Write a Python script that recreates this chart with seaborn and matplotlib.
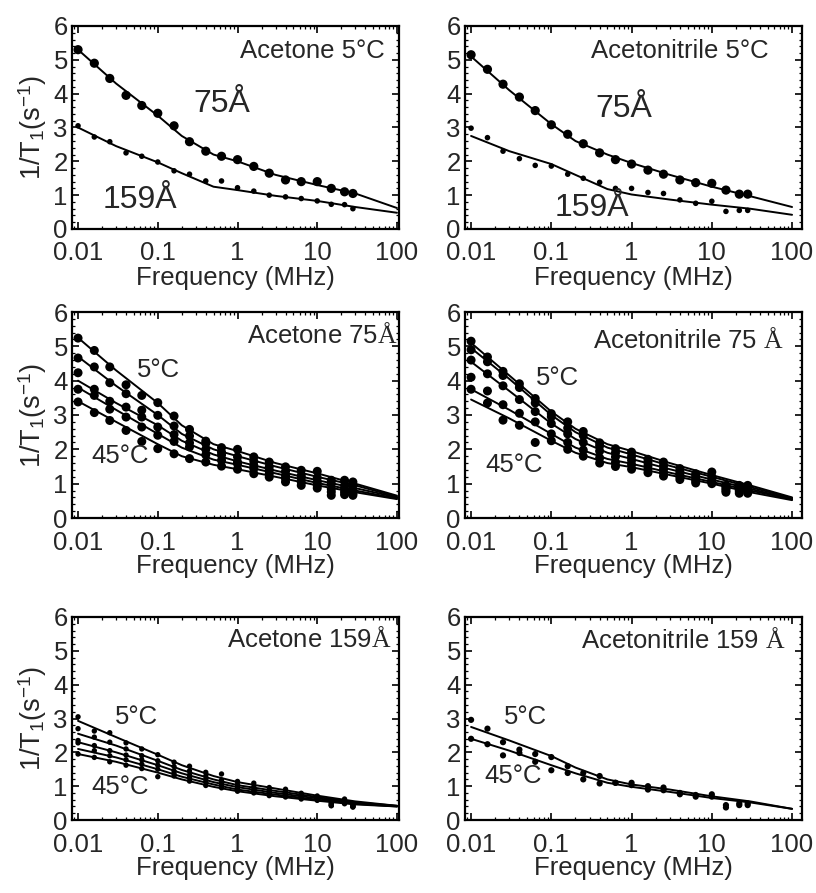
import matplotlib
matplotlib.use("Agg")
import matplotlib.pyplot as plt
import numpy as np
import pandas as pd
import seaborn as sns
from matplotlib.ticker import FixedLocator, FixedFormatter, MultipleLocator, LogLocator, NullFormatter

sns.set_theme(style="ticks")
plt.rcParams['font.family'] = ['Liberation Sans', 'DejaVu Sans']
plt.rcParams['mathtext.fontset'] = 'custom'
plt.rcParams['mathtext.rm'] = 'Liberation Serif'
plt.rcParams['mathtext.sf'] = 'Liberation Sans'
plt.rcParams['mathtext.it'] = 'Liberation Serif:italic'
plt.rcParams['mathtext.bf'] = 'Liberation Serif:bold'

# ---------------- data ----------------
freq = [0.01, 0.016, 0.025, 0.04, 0.063, 0.1, 0.16, 0.25, 0.4, 0.63, 1, 1.6, 2.5, 4, 6.3, 10, 15, 22, 28]
fit_freq = [0.01, 0.03, 0.1, 0.2, 0.5, 1, 3, 10, 30, 100]
temps = ["5°C", "15°C", "25°C", "35°C", "45°C"]

# Panel 1: Acetone 5°C
ac5_75 = [5.3, 4.9, 4.45, 3.95, 3.65, 3.42, 3.05, 2.58, 2.3, 2.15, 2.05, 1.85, 1.65, 1.45, 1.4, 1.4, 1.2, 1.1, 1.05]
ac5_159 = [3.05, 2.72, 2.58, 2.25, 2.15, 1.98, 1.72, 1.62, 1.42, 1.42, 1.22, 1.12, 1.0, 0.95, 0.9, 0.83, 0.73, 0.72, 0.6]
ac5_75_fit = [5.3, 4.3, 3.35, 2.75, 2.2, 2.0, 1.6, 1.3, 1.05, 0.62]
ac5_159_fit = [3.0, 2.45, 1.97, 1.65, 1.25, 1.15, 0.98, 0.83, 0.65, 0.48]

# Panel 2: Acetonitrile 5°C
an5_75 = [5.15, 4.72, 4.28, 3.9, 3.5, 3.08, 2.8, 2.52, 2.25, 2.05, 1.92, 1.74, 1.62, 1.45, 1.37, 1.35, 1.15, 1.03, 1.03]
an5_159 = [2.98, 2.7, 2.3, 2.08, 1.88, 1.86, 1.62, 1.5, 1.38, 1.2, 1.2, 1.08, 1.05, 0.86, 0.76, 0.82, 0.52, 0.55, 0.55]
an5_75_fit = [5.1, 4.1, 3.1, 2.6, 2.2, 1.95, 1.6, 1.25, 0.97, 0.65]
an5_159_fit = [2.75, 2.3, 1.92, 1.6, 1.18, 1.02, 0.87, 0.72, 0.6, 0.42]

# Panel 3: Acetone 75Å, 5..45°C
ac75 = [
    [5.24, 4.88, 4.40, 3.88, 3.57, 3.36, 2.97, 2.58, 2.24, 2.05, 2.0, 1.78, 1.63, 1.49, 1.39, 1.36, 1.10, 1.10, 1.05],
    [4.66, 4.40, 3.94, 3.62, 3.14, 2.99, 2.68, 2.39, 2.17, 1.92, 1.78, 1.65, 1.49, 1.36, 1.24, 1.17, 1.0, 0.95, 0.95],
    [4.23, 3.75, 3.40, 3.23, 2.94, 2.65, 2.43, 2.19, 2.0, 1.83, 1.63, 1.53, 1.39, 1.24, 1.17, 1.05, 0.85, 0.85, 0.81],
    [3.75, 3.57, 3.17, 2.94, 2.65, 2.41, 2.23, 2.07, 1.84, 1.68, 1.58, 1.44, 1.29, 1.15, 1.05, 0.95, 0.76, 0.76, 0.71],
    [3.38, 3.07, 2.84, 2.55, 2.23, 2.02, 1.87, 1.73, 1.63, 1.51, 1.42, 1.29, 1.19, 1.05, 0.95, 0.87, 0.66, 0.68, 0.66],
]
ac75_fit = [
    [5.25, 4.3, 3.35, 2.7, 2.15, 1.95, 1.6, 1.3, 1.0, 0.65],
    [4.7, 3.85, 3.0, 2.45, 2.0, 1.8, 1.5, 1.2, 0.95, 0.62],
    [4.0, 3.35, 2.7, 2.25, 1.85, 1.65, 1.38, 1.1, 0.87, 0.6],
    [3.8, 3.15, 2.45, 2.05, 1.7, 1.55, 1.3, 1.02, 0.8, 0.57],
    [3.4, 2.8, 2.15, 1.8, 1.55, 1.42, 1.2, 0.95, 0.75, 0.55],
]

# Panel 4: Acetonitrile 75Å
an75 = [
    [5.15, 4.69, 4.27, 3.91, 3.48, 3.04, 2.80, 2.52, 2.19, 2.02, 1.92, 1.71, 1.63, 1.44, 1.29, 1.34, 0.95, 0.95, 0.95],
    [4.9, 4.55, 4.15, 3.8, 3.35, 2.95, 2.62, 2.4, 2.1, 1.9, 1.8, 1.62, 1.52, 1.35, 1.22, 1.2, 0.9, 0.88, 0.88],
    [4.6, 4.2, 3.85, 3.45, 3.1, 2.75, 2.45, 2.2, 1.95, 1.78, 1.68, 1.52, 1.42, 1.28, 1.15, 1.12, 0.85, 0.82, 0.82],
    [4.1, 3.7, 3.3, 3.05, 2.8, 2.45, 2.2, 1.98, 1.75, 1.62, 1.55, 1.42, 1.32, 1.2, 1.08, 1.05, 0.8, 0.78, 0.78],
    [3.75, 3.35, 2.85, 2.7, 2.2, 2.25, 2.0, 1.8, 1.6, 1.5, 1.42, 1.32, 1.22, 1.12, 1.02, 1.0, 0.75, 0.72, 0.72],
]
an75_fit = [
    [5.1, 4.15, 3.1, 2.6, 2.15, 1.95, 1.6, 1.25, 0.95, 0.6],
    [4.95, 4.05, 3.0, 2.5, 2.05, 1.85, 1.52, 1.2, 0.9, 0.58],
    [4.55, 3.7, 2.75, 2.3, 1.9, 1.72, 1.42, 1.12, 0.85, 0.55],
    [3.75, 3.15, 2.45, 2.05, 1.72, 1.58, 1.32, 1.05, 0.8, 0.55],
    [3.45, 2.9, 2.25, 1.9, 1.6, 1.48, 1.25, 1.0, 0.75, 0.52],
]

# Panel 5: Acetone 159Å
ac159 = [
    [3.05, 2.63, 2.58, 2.28, 2.1, 1.93, 1.71, 1.59, 1.41, 1.36, 1.14, 1.09, 0.96, 0.91, 0.79, 0.71, 0.42, 0.62, 0.4],
    [2.7, 2.45, 2.3, 2.1, 1.9, 1.75, 1.58, 1.45, 1.3, 1.18, 1.05, 0.98, 0.88, 0.82, 0.72, 0.66, 0.5, 0.55, 0.45],
    [2.35, 2.2, 2.05, 1.92, 1.78, 1.62, 1.45, 1.33, 1.2, 1.1, 0.98, 0.9, 0.82, 0.75, 0.68, 0.62, 0.48, 0.52, 0.42],
    [2.28, 2.05, 1.9, 1.78, 1.65, 1.5, 1.38, 1.25, 1.12, 1.02, 0.92, 0.85, 0.78, 0.72, 0.65, 0.6, 0.45, 0.5, 0.4],
    [1.95, 1.85, 1.72, 1.62, 1.52, 1.28, 1.3, 1.15, 1.02, 0.95, 0.85, 0.8, 0.72, 0.68, 0.62, 0.58, 0.43, 0.48, 0.38],
]
ac159_fit = [
    [2.93, 2.45, 1.93, 1.62, 1.3, 1.12, 0.93, 0.72, 0.55, 0.42],
    [2.55, 2.2, 1.75, 1.48, 1.2, 1.03, 0.86, 0.68, 0.52, 0.42],
    [2.3, 2.0, 1.62, 1.38, 1.12, 0.97, 0.8, 0.64, 0.5, 0.41],
    [2.1, 1.85, 1.5, 1.28, 1.05, 0.9, 0.75, 0.6, 0.48, 0.4],
    [1.95, 1.72, 1.4, 1.2, 0.98, 0.85, 0.7, 0.57, 0.46, 0.4],
]

# Panel 6: Acetonitrile 159Å (5°C and 45°C)
an159 = [
    [2.96, 2.70, 2.30, 2.08, 1.95, 1.86, 1.59, 1.39, 1.30, 1.10, 1.10, 1.0, 0.96, 0.80, 0.74, 0.76, 0.44, 0.49, 0.49],
    [2.40, 2.24, 1.91, 1.98, 1.72, 1.47, 1.39, 1.20, 1.08, 1.10, 1.03, 0.90, 0.88, 0.76, 0.69, 0.69, 0.37, 0.44, 0.44],
]
an159_fit = [
    [2.75, 2.35, 1.89, 1.55, 1.2, 1.05, 0.9, 0.7, 0.55, 0.33],
    [2.4, 2.05, 1.62, 1.38, 1.1, 0.98, 0.83, 0.65, 0.52, 0.33],
]


def long_df(xs, series_list, names):
    rows = []
    for name, ys in zip(names, series_list):
        for x, y in zip(xs, ys):
            rows.append({"freq": x, "rate": y, "series": name})
    return pd.DataFrame(rows)


W, H = 816, 893
fig = plt.figure(figsize=(W / 100, H / 100), dpi=100)


def make_ax(px_left, px_right, px_top, px_bottom):
    return fig.add_axes([px_left / W, 1 - px_bottom / H, (px_right - px_left) / W, (px_bottom - px_top) / H])


left_col = (72, 399)
right_col = (465, 802)
rows_px = [(26, 229), (312, 518), (617, 820)]
xlim_left = (0.0084, 106)
xlim_right = (0.0084, 133)

TICK_FS = 18.5
LAB_FS = 18.5


def style_ax(ax, xlim, ylabel):
    ax.set_xscale('log')
    ax.set_xlim(*xlim)
    ax.set_ylim(0, 6)
    ax.xaxis.set_major_locator(FixedLocator([0.01, 0.1, 1, 10, 100]))
    ax.xaxis.set_major_formatter(FixedFormatter(['0.01', '0.1', '1', '10', '100']))
    ax.xaxis.set_minor_locator(LogLocator(base=10, subs=np.arange(2, 10), numticks=20))
    ax.xaxis.set_minor_formatter(NullFormatter())
    ax.yaxis.set_major_locator(MultipleLocator(1))
    ax.yaxis.set_minor_locator(MultipleLocator(0.2))
    ax.tick_params(which='both', direction='in', top=True, right=True, labelsize=TICK_FS, color='black')
    ax.tick_params(which='major', length=5, width=1.2)
    ax.tick_params(which='minor', length=2.5, width=0.9)
    ax.tick_params(axis='x', which='major', pad=9)
    ax.tick_params(axis='y', which='major', pad=3)
    for sp in ax.spines.values():
        sp.set_linewidth(1.6)
        sp.set_color('black')
    ax.set_xlabel('Frequency (MHz)', fontsize=LAB_FS, labelpad=0)
    if ylabel:
        ax.set_ylabel(r'1/T$_\mathsf{1}$(s$^\mathsf{-1}$)', fontsize=19.5, labelpad=3)
    else:
        ax.set_ylabel('')


def draw(ax, series, fits, names, sizes):
    pts = long_df(freq, series, names)
    fl = long_df(fit_freq, fits, names)
    for name, s in zip(names, sizes):
        sns.scatterplot(data=pts[pts.series == name], x='freq', y='rate', ax=ax,
                        color='black', s=s, edgecolor='none', legend=False, zorder=3)
    sns.lineplot(data=fl, x='freq', y='rate', units='series', estimator=None, ax=ax,
                 color='black', lw=1.4, legend=False, sort=True, zorder=2)


panels = [
    (left_col, rows_px[0], [ac5_75, ac5_159], [ac5_75_fit, ac5_159_fit], ['75Å', '159Å'], [44, 16], True, xlim_left),
    (right_col, rows_px[0], [an5_75, an5_159], [an5_75_fit, an5_159_fit], ['75Å', '159Å'], [44, 16], False, xlim_right),
    (left_col, rows_px[1], ac75, ac75_fit, temps, [42] * 5, True, xlim_left),
    (right_col, rows_px[1], an75, an75_fit, temps, [42] * 5, False, xlim_right),
    (left_col, rows_px[2], ac159, ac159_fit, temps, [15] * 5, True, xlim_left),
    (right_col, rows_px[2], an159, an159_fit, ['5°C', '45°C'], [20, 20], False, xlim_right),
]

axes = []
for col, rw, series, fits, names, sizes, ylab, xlim in panels:
    ax = make_ax(col[0], col[1], rw[0], rw[1])
    ax.set_xscale('log')
    draw(ax, series, fits, names, sizes)
    style_ax(ax, xlim, ylab)
    axes.append(ax)

TXT = 18.5
BIG = 23
tA = axes[0].transAxes
axes[0].text(0.957, 0.875, 'Acetone 5°C', transform=tA, ha='right', va='center', fontsize=TXT)
axes[0].text(0.459, 0.614, '75Å', transform=tA, ha='center', va='center', fontsize=BIG)
axes[0].text(0.208, 0.144, '159Å', transform=tA, ha='center', va='center', fontsize=BIG)

tB = axes[1].transAxes
axes[1].text(0.90, 0.875, 'Acetonitrile 5°C', transform=tB, ha='right', va='center', fontsize=TXT)
axes[1].text(0.471, 0.589, '75Å', transform=tB, ha='center', va='center', fontsize=BIG)
axes[1].text(0.377, 0.104, '159Å', transform=tB, ha='center', va='center', fontsize=BIG)

tC = axes[2].transAxes
axes[2].text(0.997, 0.884, r'Acetone 75$\mathrm{Å}$', transform=tC, ha='right', va='center', fontsize=TXT)
axes[2].text(0.263, 0.72, '5°C', transform=tC, ha='center', va='center', fontsize=TXT)
axes[2].text(0.147, 0.30, '45°C', transform=tC, ha='center', va='center', fontsize=TXT)

tD = axes[3].transAxes
axes[3].text(0.947, 0.86, r'Acetonitrile 75 $\mathrm{Å}$', transform=tD, ha='right', va='center', fontsize=TXT)
axes[3].text(0.273, 0.68, '5°C', transform=tD, ha='center', va='center', fontsize=TXT)
axes[3].text(0.146, 0.258, '45°C', transform=tD, ha='center', va='center', fontsize=TXT)

tE = axes[4].transAxes
axes[4].text(0.978, 0.89, r'Acetone 159$\mathrm{Å}$', transform=tE, ha='right', va='center', fontsize=TXT)
axes[4].text(0.198, 0.505, '5°C', transform=tE, ha='center', va='center', fontsize=TXT)
axes[4].text(0.147, 0.165, '45°C', transform=tE, ha='center', va='center', fontsize=TXT)

tF = axes[5].transAxes
axes[5].text(0.952, 0.885, r'Acetonitrile 159 $\mathrm{Å}$', transform=tF, ha='right', va='center', fontsize=TXT)
axes[5].text(0.179, 0.505, '5°C', transform=tF, ha='center', va='center', fontsize=TXT)
axes[5].text(0.144, 0.215, '45°C', transform=tF, ha='center', va='center', fontsize=TXT)

fig.savefig('out.png', dpi=100, facecolor='white')
